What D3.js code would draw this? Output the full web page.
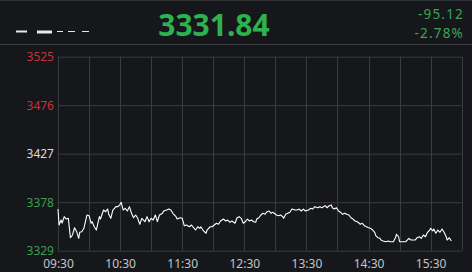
<!DOCTYPE html>
<html>
<head>
<meta charset="utf-8">
<script src="https://cdn.jsdelivr.net/npm/d3@7"></script>
<style>
  html, body { margin: 0; padding: 0; background: #16171b; }
  svg { display: block; }
  text { font-family: "Noto Sans", "DejaVu Sans", sans-serif; }
</style>
</head>
<body>
<div id="chart"></div>
<script>
// header values
const lastPrice = "3331.84";
const change = "-95.12";
const changePct = "-2.78%";

// axis ticks
const priceTicks = [3329, 3378, 3427, 3476, 3525];
const priceColors = ["#3d9c52", "#3d9c52", "#dcdcdc", "#c8323a", "#c8323a"];
const gridMinutes = [0, 30, 60, 90, 120, 150, 180, 210, 240, 270, 300, 330, 360, 390];
const labelMinutes = [0, 60, 120, 180, 240, 300, 360];
const timeLabels = ["09:30", "10:30", "11:30", "12:30", "13:30", "14:30", "15:30"];

// intraday series: minutes after 09:30 and index value
const minutes = [0, 1, 3, 4, 6, 8, 10, 12, 14, 16, 18, 20, 21, 23, 25, 28, 30, 32, 33, 35, 37, 40, 41, 44, 46, 48,
  49, 51, 53, 56, 58, 60, 61, 63, 65, 67, 69, 71, 73, 75, 77, 79, 81, 84, 86, 88, 90, 92, 94, 96, 98, 101,
  102, 105, 107, 109, 111, 114, 115, 118, 120, 122, 124, 127, 129, 131, 133, 135, 137, 138, 140, 143, 144,
  147, 149, 151, 153, 155, 157, 160, 162, 164, 166, 168, 171, 173, 175, 177, 179, 181, 183, 185, 187, 189,
  191, 192, 194, 196, 198, 200, 202, 204, 206, 207, 209, 211, 213, 215, 217, 218, 220, 222, 224, 226, 229,
  231, 233, 235, 237, 239, 242, 244, 246, 248, 251, 253, 255, 258, 260, 262, 264, 265, 267, 269, 271, 273,
  275, 277, 279, 281, 283, 285, 287, 289, 291, 292, 294, 296, 298, 300, 302, 304, 306, 307, 309, 311, 312,
  314, 317, 319, 321, 324, 326, 327, 329, 330, 333, 336, 339, 341, 343, 345, 347, 349, 351, 353, 355, 357,
  359, 360, 362, 363, 365, 367, 369, 371, 373, 375, 376, 378, 380];
const prices = [3371.1, 3355.0, 3360.0, 3357.0, 3363.4, 3361.0, 3361.7, 3342.1, 3344.9, 3352.2, 3348.2, 3341.5,
  3347.6, 3348.2, 3351.6, 3365.1, 3364.4, 3356.7, 3358.3, 3353.2, 3349.9, 3363.4, 3361.0, 3370.1, 3368.4,
  3371.1, 3365.8, 3361.7, 3370.1, 3373.5, 3373.5, 3375.9, 3377.9, 3370.1, 3371.8, 3369.1, 3373.5, 3366.8,
  3362.3, 3365.1, 3361.7, 3355.7, 3361.7, 3358.3, 3363.4, 3358.3, 3361.7, 3360.0, 3365.1, 3358.3, 3365.1,
  3366.8, 3369.1, 3370.1, 3371.1, 3370.1, 3366.8, 3363.4, 3361.0, 3362.3, 3361.7, 3354.3, 3355.0, 3353.2,
  3355.0, 3352.2, 3349.9, 3353.2, 3351.6, 3353.2, 3349.9, 3346.6, 3349.9, 3353.2, 3353.2, 3355.0, 3356.7,
  3355.7, 3359.0, 3361.0, 3359.0, 3360.0, 3357.7, 3359.0, 3356.7, 3362.3, 3363.4, 3361.7, 3356.7, 3358.3,
  3361.0, 3359.0, 3360.0, 3358.3, 3357.7, 3361.0, 3362.3, 3365.1, 3366.8, 3365.8, 3368.4, 3369.1, 3366.8,
  3367.8, 3366.8, 3365.1, 3364.4, 3365.1, 3363.4, 3361.7, 3365.8, 3366.8, 3367.8, 3371.1, 3370.1, 3370.1,
  3371.1, 3369.1, 3371.1, 3369.1, 3370.1, 3371.8, 3371.1, 3373.5, 3372.4, 3373.5, 3372.4, 3374.5, 3372.4,
  3374.5, 3375.2, 3372.4, 3371.1, 3372.4, 3369.1, 3367.8, 3365.8, 3366.8, 3365.8, 3365.1, 3362.3, 3361.0,
  3359.0, 3358.3, 3356.7, 3355.7, 3356.7, 3354.3, 3353.2, 3352.2, 3351.6, 3349.9, 3347.6, 3344.2, 3342.1,
  3341.5, 3339.8, 3338.8, 3338.1, 3338.8, 3338.1, 3338.1, 3342.1, 3345.6, 3343.1, 3338.1, 3338.1, 3338.1,
  3341.5, 3339.8, 3339.8, 3339.8, 3342.1, 3343.1, 3341.5, 3344.9, 3343.1, 3347.6, 3349.9, 3351.6, 3349.0,
  3350.9, 3346.6, 3349.9, 3347.6, 3350.9, 3347.6, 3343.1, 3339.8, 3342.1, 3338.8];

const W = 472, H = 272;
const plot = { left: 58, right: 461.7, top: 56.7, bottom: 250.7 };

const svg = d3.select("#chart").append("svg")
  .attr("width", W)
  .attr("height", H);

svg.append("rect").attr("width", W).attr("height", H).attr("fill", "#16171b");

// header
svg.append("line").attr("x1", 0).attr("x2", W).attr("y1", 0.5).attr("y2", 0.5)
  .attr("stroke", "#2e2f34");
svg.append("line").attr("x1", 0).attr("x2", W).attr("y1", 44.5).attr("y2", 44.5)
  .attr("stroke", "#3e3f44");

// redacted name in the header
const nameBits = [[16, 11, 2], [37, 15, 3], [57, 6, 1], [68, 7, 1], [82, 7, 1]];
svg.append("g").selectAll("rect")
  .data(nameBits)
  .join("rect")
  .attr("x", d => d[0])
  .attr("y", d => d[2] > 1 ? 30.5 : 31)
  .attr("width", d => d[1])
  .attr("height", d => d[2])
  .attr("fill", "#e8e8e8");

svg.append("text")
  .attr("x", 214).attr("y", 35.5)
  .attr("text-anchor", "middle")
  .attr("font-size", 30).attr("font-weight", "bold")
  .attr("fill", "#2db24f")
  .text(lastPrice);

// change lines, compact font so the two lines don't collide
[[change, 19.3], [changePct, 37.8]].forEach(([t, yy]) => {
  svg.append("text")
    .attr("x", 464).attr("y", yy)
    .attr("text-anchor", "end")
    .attr("font-family", "\"Liberation Sans\", Arial, sans-serif")
    .attr("font-size", 13.5)
    .attr("letter-spacing", 1.2)
    .attr("fill", "#3aa556")
    .text(t);
});

// scales
const x = d3.scaleLinear().domain([0, 390]).range([plot.left, plot.right]);
const y = d3.scaleLinear().domain([3329, 3525]).range([plot.bottom, plot.top]);

// horizontal grid + price labels
const yAxis = svg.append("g")
  .attr("transform", `translate(${plot.left},0)`)
  .call(d3.axisLeft(y).tickValues(priceTicks).tickSize(-(plot.right - plot.left)).tickPadding(4).tickFormat(d3.format("d")));
yAxis.select(".domain").remove();
yAxis.selectAll(".tick line").attr("stroke", "#3a3b40");
yAxis.selectAll(".tick text")
  .attr("font-size", 12)
  .attr("font-family", "\"Noto Sans\", sans-serif")
  .attr("fill", (d, i) => priceColors[i]);

// vertical grid
svg.append("g").selectAll("line")
  .data(gridMinutes)
  .join("line")
  .attr("x1", d => Math.round(x(d)) + 0.5)
  .attr("x2", d => Math.round(x(d)) + 0.5)
  .attr("y1", plot.top)
  .attr("y2", plot.bottom)
  .attr("stroke", "#3a3b40");

// time labels
const xAxis = svg.append("g")
  .attr("transform", `translate(0,${plot.bottom})`)
  .call(d3.axisBottom(x).tickValues(labelMinutes).tickSize(0).tickPadding(9)
    .tickFormat((d, i) => timeLabels[i]));
xAxis.select(".domain").remove();
xAxis.selectAll(".tick text")
  .attr("font-size", 12)
  .attr("font-family", "\"Noto Sans\", sans-serif")
  .attr("fill", "#c4c4c4");

// price line
svg.append("path")
  .datum(minutes.map((m, i) => [m, prices[i]]))
  .attr("fill", "none")
  .attr("stroke", "#ffffff")
  .attr("stroke-width", 1.1)
  .attr("stroke-linejoin", "round")
  .attr("d", d3.line().x(d => x(d[0])).y(d => y(d[1])));
</script>
</body>
</html>
